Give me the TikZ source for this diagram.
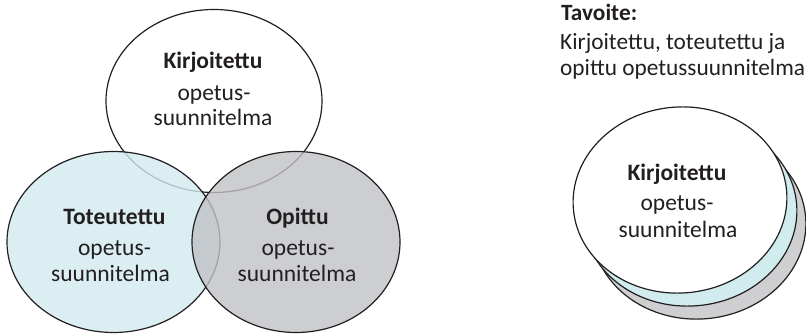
\documentclass[tikz,border=0pt]{standalone}
\usepackage{fontspec}
\setmainfont{Carlito}
\usetikzlibrary{shapes.geometric}
\definecolor{vteal}{HTML}{D2EAEF}
\definecolor{vgrey}{HTML}{C1C2C5}
\definecolor{steal}{HTML}{D0ECEE}
\definecolor{sgrey}{HTML}{CFCFD1}
\definecolor{ink}{HTML}{231F20}
\begin{document}
\begin{tikzpicture}[x=1pt,y=-1pt,
  oval/.style={ellipse, draw=ink, line width=1.2pt, inner sep=0pt, outer sep=0pt},
  lbl/.style={anchor=base, inner sep=0pt, text=ink, font=\fontsize{23.5}{28}\selectfont},
  blbl/.style={lbl, font=\fontsize{23.5}{28}\selectfont\bfseries},
  lft/.style={anchor=base west, inner sep=0pt, text=ink, font=\fontsize{23.3}{28}\selectfont},
]
\useasboundingbox (0,0) rectangle (806,334);
% Venn diagram
\node[oval, fill=white, minimum width=216pt, minimum height=183pt] (top) at (214,101) {};
\node[oval, fill=vteal, fill opacity=0.8, minimum width=213pt, minimum height=181pt] (left) at (113.5,242) {};
\node[oval, fill=vgrey, fill opacity=0.8, minimum width=208pt, minimum height=181pt] (right) at (296,242) {};
\node[blbl] (t1) at (213,69) {Kirjoitettu};
\node[lbl] (t2) at (214,101) {opetus-};
\node[lbl] (t3) at (213,126) {suunnitelma};
\node[blbl] (l1) at (114.5,224.5) {Toteutettu};
\node[lbl] (l2) at (114.5,255) {opetus-};
\node[lbl] (l3) at (110.5,281) {suunnitelma};
\node[blbl] (r1) at (297.5,224.5) {Opittu};
\node[lbl] (r2) at (298,255) {opetus-};
\node[lbl] (r3) at (297,281) {suunnitelma};
% goal
\node[lft, font=\fontsize{23.3}{28}\selectfont\bfseries] (g1) at (561,20.7) {Tavoite:};
\node[lft] (g2) at (560,50) {Kirjoitettu, toteutettu ja};
\node[lft] (g3) at (560,76) {opittu opetussuunnitelma};
% stack
\node[oval, fill=sgrey, minimum width=214pt, minimum height=186pt, rotate=5] (back) at (699,226) {};
\node[oval, fill=steal, minimum width=214pt, minimum height=186pt, rotate=5] (mid) at (690,213) {};
\node[oval, fill=white, minimum width=214pt, minimum height=186pt, rotate=5] (front) at (680,200) {};
\node[blbl] (f1) at (677,181) {Kirjoitettu};
\node[lbl] (f2) at (677,210) {opetus-};
\node[lbl] (f3) at (678,237) {suunnitelma};
\end{tikzpicture}
\end{document}
